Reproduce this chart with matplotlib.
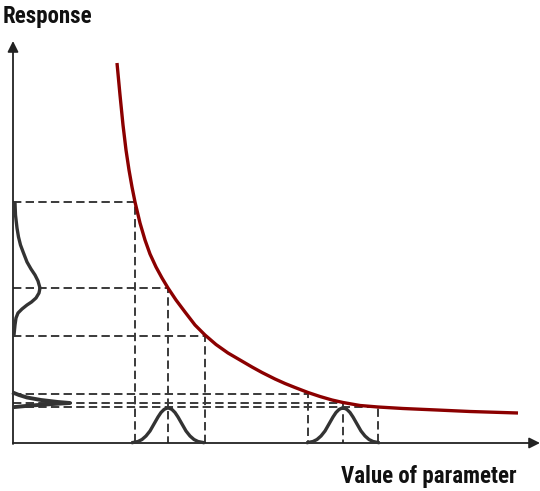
import numpy as np
import matplotlib.pyplot as plt

# response curve (x, y in picture units, y grows downward)
curve_x = [117, 120, 123, 126, 129, 132, 135, 140, 145, 150, 156, 162, 168, 176, 185,
           195, 205, 216, 228, 240, 252, 262, 275, 285, 295, 308, 320, 332, 343, 360,
           378, 403, 437, 470, 518]
curve_y = [63, 95, 125, 150, 170, 187, 202, 223, 240, 254, 267, 278, 288, 300, 312,
           325, 335, 344.5, 353, 360, 367, 372.5, 379, 383.5, 387.5, 392.5, 396.5, 400, 402.5, 405.5,
           407, 408.5, 410, 411.5, 413]

# bell profile of the parameter distribution (offset from centre, height above axis)
bell_dx = [-35, -30, -26, -22, -18, -14, -10, -7, -4, -2, 0, 2, 4, 7, 10, 14, 18, 22, 26, 30, 35]
bell_h = [0.5, 1.5, 3.5, 7, 12, 19, 26, 30.5, 33.5, 34.5, 35, 34.5, 33.5, 30.5, 26, 19, 12, 7, 3.5, 1.5, 0.5]
bell_centres = [168, 343]

# projected response distributions on the y axis
resp1_y = [203, 215, 228, 237, 245, 253, 262, 269, 275, 281, 288, 293, 298, 302, 305, 309,
           313, 318, 325, 335]
resp1_w = [2, 2.5, 4, 5.5, 7.5, 10.5, 14, 18, 22, 25, 27, 26, 23, 18.5, 14, 9,
           5, 3, 2, 1]
resp2_y = [393, 395, 397.5, 400, 402, 403, 404, 405.5, 407]
resp2_w = [1, 6, 14, 28, 45, 57, 40, 18, 2]

# projection lines: (x on the parameter axis, y on the response axis)
proj_x = [135, 168, 205, 308, 343, 378]
proj_y = [202, 288, 336, 394, 403, 407]

axis_x0 = 13
axis_y0 = 443

fig = plt.figure(figsize=(5.4, 4.91), dpi=100)
ax = fig.add_axes([0, 0, 1, 1])
ax.set_xlim(0, 540)
ax.set_ylim(491, 0)
ax.axis('off')

dash_col = '#3a3a3a'
for px, py in zip(proj_x, proj_y):
    ax.plot([axis_x0, px, px], [py, py, axis_y0], color=dash_col, lw=1.4,
            dashes=(4.3, 2.2), zorder=2)

# axes with arrows
ax.annotate('', xy=(axis_x0, 41), xytext=(axis_x0, axis_y0 + 1),
            arrowprops=dict(arrowstyle='-|>', color='#222222', lw=1.3,
                            mutation_scale=16, shrinkA=0, shrinkB=0))
ax.annotate('', xy=(540, axis_y0), xytext=(axis_x0, axis_y0),
            arrowprops=dict(arrowstyle='-|>', color='#222222', lw=1.3,
                            mutation_scale=16, shrinkA=0, shrinkB=0))

ax.plot(curve_x, curve_y, color='#8b0000', lw=2.4, solid_capstyle='butt',
        solid_joinstyle='round', zorder=4)

for c in bell_centres:
    ax.plot([c + d for d in bell_dx], [axis_y0 - h for h in bell_h],
            color='#333333', lw=2.4, solid_joinstyle='round', zorder=3)

ax.plot([axis_x0 + w for w in resp1_w], resp1_y, color='#333333', lw=2.4,
        solid_joinstyle='round', zorder=3)
ax.plot([axis_x0 + w for w in resp2_w], resp2_y, color='#333333', lw=2.8,
        solid_joinstyle='round', zorder=3)

font = ['Roboto Condensed', 'Roboto', 'DejaVu Sans']
ax.text(3, 16, 'Response', fontsize=16.5, fontweight='bold', family=font,
        color='#111111', va='center', ha='left')
ax.text(517, 476, 'Value of parameter', fontsize=16.5, fontweight='bold', family=font,
        color='#111111', va='center', ha='right')

fig.savefig('out.png', dpi=100)
